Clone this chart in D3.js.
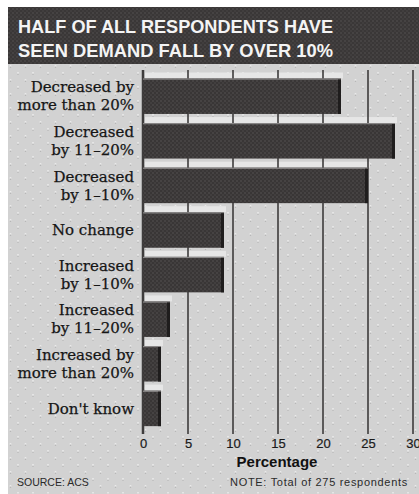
<!DOCTYPE html>
<html>
<head>
<meta charset="utf-8">
<script src="https://cdn.jsdelivr.net/npm/d3@7"></script>
<style>
  html, body { margin: 0; padding: 0; background: #ffffff; }
  svg { display: block; }
</style>
</head>
<body>
<svg id="chart" width="419" height="494"></svg>
<script>
// Survey answers, top to bottom, and the share of respondents for each
const categories = [
  ["Decreased by", "more than 20%"],
  ["Decreased", "by 11\u201320%"],
  ["Decreased", "by 1\u201310%"],
  ["No change"],
  ["Increased", "by 1\u201310%"],
  ["Increased", "by 11\u201320%"],
  ["Increased by", "more than 20%"],
  ["Don't know"]
];
const values = [22, 28, 25, 9, 9, 3, 2, 2];
const tickValues = [0, 5, 10, 15, 20, 25, 30];
const titleLines = ["HALF OF ALL RESPONDENTS HAVE", "SEEN DEMAND FALL BY OVER 10%"];
const axisTitle = "Percentage";
const sourceText = "SOURCE: ACS";
const noteText = "NOTE: Total of 275 respondents";

const svg = d3.select("#chart");
const keys = categories.map(c => c.join(" "));

const x = d3.scaleLinear().domain([0, 30]).range([143, 413]);
const y = d3.scaleBand().domain(keys).range([74, 430.6]).paddingInner(0.204).paddingOuter(0.1);

// Textures: dotted grey panel, dark dotted bars and title band
const defs = svg.append("defs");
const bgPat = defs.append("pattern").attr("id", "bgDots")
  .attr("patternUnits", "userSpaceOnUse").attr("width", 15).attr("height", 14);
bgPat.append("rect").attr("width", 15).attr("height", 14).attr("fill", "#d2d2d2");
bgPat.append("circle").attr("cx", 3).attr("cy", 3).attr("r", 1).attr("fill", "#ececec");
bgPat.append("circle").attr("cx", 10.5).attr("cy", 10).attr("r", 1).attr("fill", "#ececec");
bgPat.append("circle").attr("cx", 3).attr("cy", 4.2).attr("r", 0.7).attr("fill", "#b4b4b4");
bgPat.append("circle").attr("cx", 10.5).attr("cy", 11.2).attr("r", 0.7).attr("fill", "#b4b4b4");

const darkPat = defs.append("pattern").attr("id", "darkDots")
  .attr("patternUnits", "userSpaceOnUse").attr("width", 4).attr("height", 4);
darkPat.append("rect").attr("width", 4).attr("height", 4).attr("fill", "#393636");
darkPat.append("circle").attr("cx", 1).attr("cy", 1).attr("r", 0.8).attr("fill", "#575454");
darkPat.append("circle").attr("cx", 3).attr("cy", 3).attr("r", 0.8).attr("fill", "#4d4a4a");

const titlePat = defs.append("pattern").attr("id", "titleDots")
  .attr("patternUnits", "userSpaceOnUse").attr("width", 4).attr("height", 4);
titlePat.append("rect").attr("width", 4).attr("height", 4).attr("fill", "#3a3737");
titlePat.append("circle").attr("cx", 1).attr("cy", 1).attr("r", 0.8).attr("fill", "#555252");
titlePat.append("circle").attr("cx", 3).attr("cy", 3).attr("r", 0.8).attr("fill", "#4a4747");

// Panel and title band
svg.append("rect").attr("x", 8).attr("y", 64).attr("width", 411).attr("height", 430)
  .attr("fill", "url(#bgDots)");
svg.append("rect").attr("x", 8).attr("y", 7).attr("width", 411).attr("height", 57)
  .attr("fill", "url(#titleDots)");
svg.append("g").selectAll("text").data(titleLines).join("text")
  .attr("x", 18).attr("y", (d, i) => 33 + i * 24)
  .attr("textLength", 315).attr("lengthAdjust", "spacingAndGlyphs")
  .attr("font-family", "Liberation Sans, Arial, sans-serif")
  .attr("font-weight", "bold").attr("font-size", 17.5)
  .attr("fill", "#f4f4f4")
  .text(d => d);

// Top faces of the bars (the lighter strip above each bar)
const topDepth = 6;
svg.append("g").selectAll("rect").data(values).join("rect")
  .attr("x", x(0) + 2)
  .attr("y", (d, i) => y(keys[i]) - topDepth)
  .attr("width", d => x(d) - x(0))
  .attr("height", topDepth)
  .attr("fill", "#e6e6e6");

// Vertical gridlines
svg.append("g").selectAll("line").data(tickValues).join("line")
  .attr("x1", d => x(d)).attr("x2", d => x(d))
  .attr("y1", 70).attr("y2", 434)
  .attr("stroke", "#3e3c3c")
  .attr("stroke-width", d => d === 0 ? 2.5 : 1.6);

// Bar fronts
const bars = svg.append("g");
bars.selectAll("rect.face").data(values).join("rect").attr("class", "face")
  .attr("x", x(0))
  .attr("y", (d, i) => y(keys[i]))
  .attr("width", d => x(d) - x(0))
  .attr("height", y.bandwidth())
  .attr("fill", "url(#darkDots)");
// thin highlight along the top edge
bars.selectAll("rect.edge").data(values).join("rect").attr("class", "edge")
  .attr("x", x(0))
  .attr("y", (d, i) => y(keys[i]))
  .attr("width", d => x(d) - x(0))
  .attr("height", 1.2)
  .attr("fill", "#8c8a8a");
// shaded right end
bars.selectAll("rect.side").data(values).join("rect").attr("class", "side")
  .attr("x", d => x(d) - 3)
  .attr("y", (d, i) => y(keys[i]) + 1)
  .attr("width", 3)
  .attr("height", y.bandwidth() - 1)
  .attr("fill", "#1f1d1d");

// Category labels
const labels = svg.append("g")
  .attr("font-family", "DejaVu Serif, serif")
  .attr("font-size", 15)
  .attr("fill", "#161616")
  .attr("stroke", "#161616").attr("stroke-width", 0.25)
  .attr("text-anchor", "end");
categories.forEach((lines, i) => {
  const cy = y(keys[i]) + y.bandwidth() / 2;
  lines.forEach((line, j) => {
    labels.append("text")
      .attr("x", 134)
      .attr("y", cy + (j - (lines.length - 1) / 2) * 18)
      .attr("dy", "0.35em")
      .attr("letter-spacing", 0)
      .text(line);
  });
});

// Axis tick labels
const axis = svg.append("g").attr("transform", "translate(0,443)")
  .call(d3.axisBottom(x).tickValues(tickValues).tickSize(0).tickPadding(0));
axis.select(".domain").remove();
axis.selectAll("text")
  .attr("dy", "0.35em")
  .attr("font-family", "Liberation Sans, Arial, sans-serif")
  .attr("font-size", 13)
  .attr("fill", "#1a1a1a")
  .attr("stroke", "#1a1a1a").attr("stroke-width", 0.2);

svg.append("text")
  .attr("x", 277).attr("y", 462).attr("dy", "0.35em")
  .attr("text-anchor", "middle")
  .attr("font-family", "Liberation Sans, Arial, sans-serif")
  .attr("font-weight", "bold").attr("font-size", 15)
  .attr("fill", "#111")
  .text(axisTitle);

svg.append("text")
  .attr("x", 17).attr("y", 482).attr("dy", "0.35em")
  .attr("font-family", "Liberation Sans, Arial, sans-serif")
  .attr("font-size", 10.5).attr("fill", "#2a2a2a")
  .text(sourceText);

svg.append("text")
  .attr("x", 230).attr("y", 482).attr("dy", "0.35em")
  .attr("font-family", "Liberation Sans, Arial, sans-serif")
  .attr("font-size", 11).attr("fill", "#2a2a2a")
  .attr("letter-spacing", 0.7)
  .text(noteText);
</script>
</body>
</html>
